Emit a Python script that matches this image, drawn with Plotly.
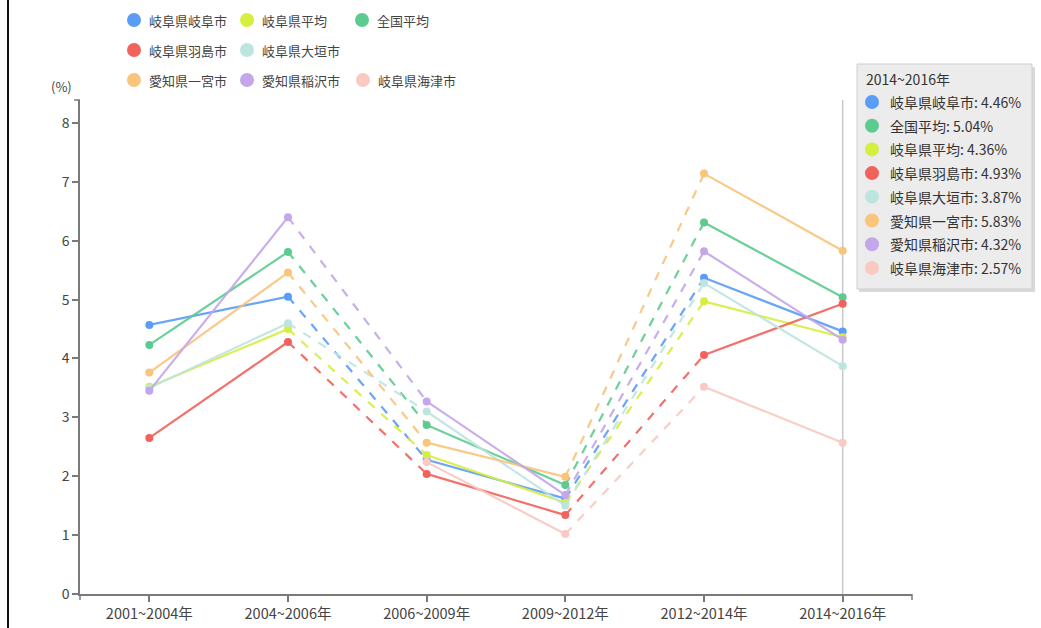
import plotly.graph_objects as go

# ---------------- data ----------------
categories = ["2001~2004年", "2004~2006年", "2006~2009年", "2009~2012年", "2012~2014年", "2014~2016年"]

series_names = ["岐阜県岐阜市", "全国平均", "岐阜県平均", "岐阜県羽島市",
                "岐阜県大垣市", "愛知県一宮市", "愛知県稲沢市", "岐阜県海津市"]

gifu_city = [4.57, 5.05, 2.28, 1.62, 5.37, 4.46]
national_avg = [4.23, 5.81, 2.87, 1.85, 6.31, 5.04]
gifu_pref_avg = [3.52, 4.50, 2.36, 1.55, 4.97, 4.36]
hashima = [2.65, 4.28, 2.04, 1.34, 4.06, 4.93]
ogaki = [3.50, 4.60, 3.10, 1.50, 5.28, 3.87]
ichinomiya = [3.76, 5.46, 2.57, 1.99, 7.14, 5.83]
inazawa = [3.45, 6.40, 3.27, 1.68, 5.82, 4.32]
kaizu = [None, None, 2.24, 1.02, 3.52, 2.57]

series_values = [gifu_city, national_avg, gifu_pref_avg, hashima, ogaki, ichinomiya, inazawa, kaizu]

# segments drawn dashed (index of segment start)
dashed_segments = [1, 3]

# legend layout (rows as in the reference)
legend_rows = [["岐阜県岐阜市", "岐阜県平均", "全国平均"],
               ["岐阜県羽島市", "岐阜県大垣市"],
               ["愛知県一宮市", "愛知県稲沢市", "岐阜県海津市"]]

# ---------------- style ----------------
colors = {
    "岐阜県岐阜市": "#5b9cf6",
    "全国平均": "#5ccb8f",
    "岐阜県平均": "#d6ee40",
    "岐阜県羽島市": "#f2625c",
    "岐阜県大垣市": "#bde5df",
    "愛知県一宮市": "#f9c47c",
    "愛知県稲沢市": "#c4a6ea",
    "岐阜県海津市": "#f9c9c2",
}

W, H = 1041, 628
ML, MR, MT, MB = 80, 129, 100, 34
PW, PH = W - ML - MR, H - MT - MB
FONT = "Noto Sans CJK JP, Noto Sans, sans-serif"
AXIS_COLOR = "#7a7a7a"
TEXT_COLOR = "#444444"


def px(xp):
    return (xp - ML) / PW


def py(yp):
    return 1 - (yp - MT) / PH


fig = go.Figure()

# ---------------- lines & markers ----------------
for name, vals in zip(series_names, series_values):
    col = colors[name]
    for i in range(len(categories) - 1):
        if vals[i] is None or vals[i + 1] is None:
            continue
        fig.add_trace(go.Scatter(
            x=[categories[i], categories[i + 1]], y=[vals[i], vals[i + 1]],
            mode="lines", line=dict(color=col, width=2.2,
                                    dash="dash" if i in dashed_segments else "solid"),
            opacity=0.9, showlegend=False, hoverinfo="skip"))
    fig.add_trace(go.Scatter(
        x=categories, y=vals, mode="markers", name=name,
        marker=dict(color=col, size=8), showlegend=False))

shapes = []
annotations = []

# hover guide line at last category
shapes.append(dict(type="line", xref="x", yref="paper", x0=len(categories) - 1,
                   x1=len(categories) - 1, y0=0, y1=1,
                   line=dict(color="#c8c8c8", width=1.5), layer="below"))

# outer ticks (d3 style)
shapes.append(dict(type="line", xref="paper", yref="paper", x0=px(74), x1=px(80),
                   y0=1, y1=1, line=dict(color=AXIS_COLOR, width=1.5)))
shapes.append(dict(type="line", xref="paper", yref="paper", x0=1, x1=1,
                   y0=0, y1=py(600), line=dict(color=AXIS_COLOR, width=1.5)))
shapes.append(dict(type="line", xref="paper", yref="paper", x0=0, x1=0,
                   y0=0, y1=py(600), line=dict(color=AXIS_COLOR, width=1.5)))

# left page border
shapes.append(dict(type="line", xref="paper", yref="paper", x0=px(8), x1=px(8),
                   y0=py(0), y1=py(H), line=dict(color="#111111", width=2)))

# ---------------- legend (manual) ----------------
row_y = [20, 50, 80]
col_x = [134, 247, 362]
r = 7
for ri, row in enumerate(legend_rows):
    for ci, name in enumerate(row):
        cx = col_x[ci] + (1 if ci == 2 and ri == 2 else 0)
        cy = row_y[ri]
        shapes.append(dict(type="circle", xref="paper", yref="paper",
                           x0=px(cx - r), x1=px(cx + r), y0=py(cy + r), y1=py(cy - r),
                           fillcolor=colors[name], line=dict(width=0)))
        annotations.append(dict(xref="paper", yref="paper", x=px(cx + 13), y=py(cy),
                                text=name, showarrow=False, xanchor="left", yanchor="middle",
                                font=dict(size=13, color=TEXT_COLOR, family=FONT)))

# ---------------- tooltip box ----------------
shapes.append(dict(type="rect", xref="paper", yref="paper",
                   x0=px(859), x1=px(1035), y0=py(292), y1=py(67),
                   fillcolor="#d9d9d9", line=dict(width=0)))
shapes.append(dict(type="rect", xref="paper", yref="paper",
                   x0=px(857), x1=px(1032), y0=py(289), y1=py(64),
                   fillcolor="#ececec", line=dict(color="#cfcfcf", width=1)))
annotations.append(dict(xref="paper", yref="paper", x=px(864), y=py(79),
                        text=categories[-1], showarrow=False, xanchor="left", yanchor="middle",
                        font=dict(size=14, color="#333333", family=FONT)))
for k, (name, vals) in enumerate(zip(series_names, series_values)):
    cy = 102 + k * 23.7
    cx = 872
    rr = 7
    shapes.append(dict(type="circle", xref="paper", yref="paper",
                       x0=px(cx - rr), x1=px(cx + rr), y0=py(cy + rr), y1=py(cy - rr),
                       fillcolor=colors[name], line=dict(width=0)))
    annotations.append(dict(xref="paper", yref="paper", x=px(888), y=py(cy),
                            text=f"{name}: {vals[-1]:.2f}%", showarrow=False,
                            xanchor="left", yanchor="middle",
                            font=dict(size=14, color="#333333", family=FONT)))

# y-axis unit
annotations.append(dict(xref="paper", yref="paper", x=px(61), y=py(86), text="(%)",
                        showarrow=False, xanchor="center", yanchor="middle",
                        font=dict(size=13, color=TEXT_COLOR, family=FONT)))

fig.update_layout(
    width=W, height=H,
    margin=dict(l=ML, r=MR, t=MT, b=MB, pad=0, autoexpand=False),
    paper_bgcolor="white", plot_bgcolor="white",
    showlegend=False,
    shapes=shapes, annotations=annotations,
    font=dict(family=FONT, color=TEXT_COLOR, size=12),
    xaxis=dict(type="category", categoryarray=categories, categoryorder="array",
               range=[-0.5, len(categories) - 0.5], showgrid=False, zeroline=False,
               automargin=False,
               showline=True, linecolor=AXIS_COLOR, linewidth=1.5,
               ticks="outside", ticklen=6, tickcolor=AXIS_COLOR, tickwidth=1.5,
               tickfont=dict(size=14.5, color=TEXT_COLOR, family=FONT)),
    yaxis=dict(range=[0, 8.39], tickvals=[0, 1, 2, 3, 4, 5, 6, 7, 8],
               showgrid=False, zeroline=False, automargin=False,
               showline=True, linecolor=AXIS_COLOR, linewidth=1.5,
               ticks="outside", ticklen=6, tickcolor=AXIS_COLOR, tickwidth=1.5,
               tickfont=dict(size=14, color=TEXT_COLOR, family=FONT)),
)

fig.write_html("out.html")
